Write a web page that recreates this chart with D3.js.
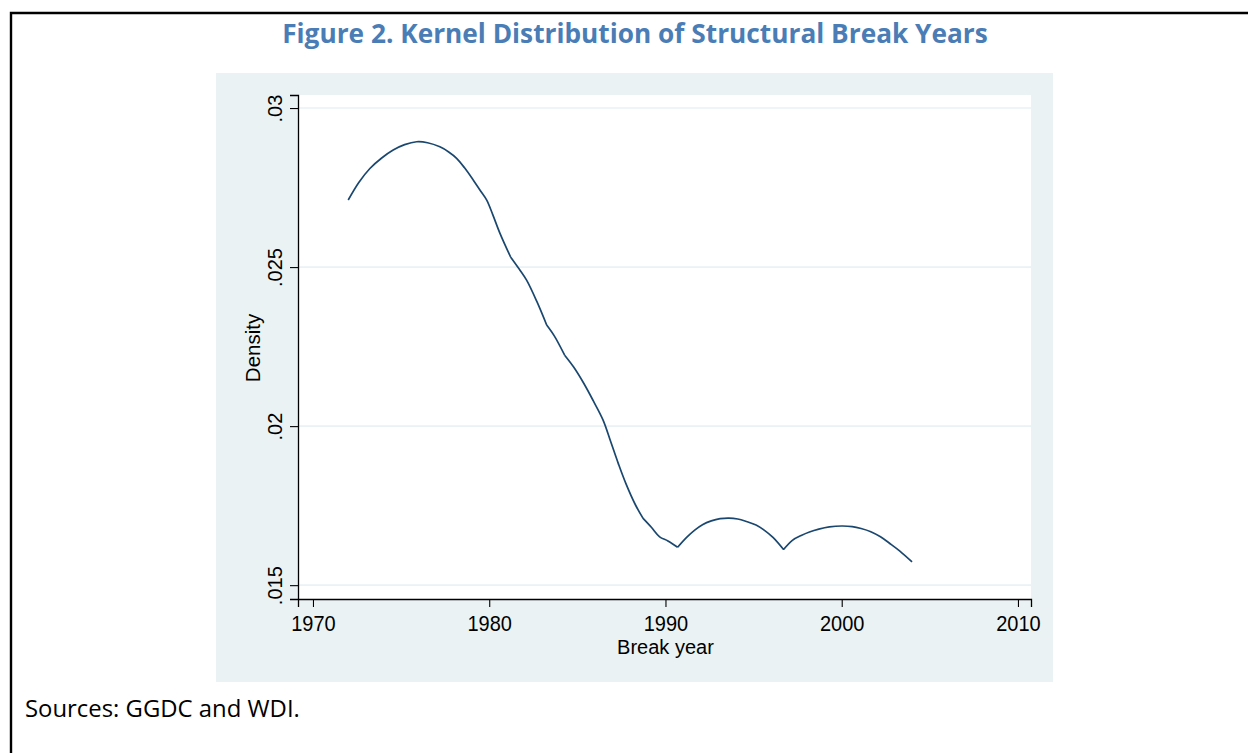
<!DOCTYPE html>
<html>
<head>
<meta charset="utf-8">
<script src="https://cdn.jsdelivr.net/npm/d3@7"></script>
<style>
  html, body { margin: 0; padding: 0; background: #ffffff; }
  svg { display: block; }
</style>
</head>
<body>
<script>
// ---- Data ----
const breakYears = [1972.0, 1972.6, 1973.23, 1973.9, 1974.55, 1975.2, 1975.88, 1976.5, 1977.2, 1977.7,
  1978.15, 1978.6, 1979.09, 1979.5, 1979.85, 1980.2, 1980.61, 1981.21, 1981.7, 1982.12,
  1982.7, 1983.26, 1983.7, 1984.28, 1984.8, 1985.37, 1985.9, 1986.46, 1986.9, 1987.32,
  1987.75, 1988.3, 1988.73, 1989.2, 1989.67, 1990.14, 1990.69, 1991.2, 1991.66, 1992.1,
  1992.6, 1993.1, 1993.6, 1994.1, 1994.6, 1995.14, 1995.6, 1996.1, 1996.7, 1997.2,
  1997.7, 1998.17, 1998.7, 1999.3, 2000.0, 2000.6, 2001.1, 2001.65, 2002.2, 2002.73,
  2003.3, 2003.99];
const densityValues = [0.02711, 0.02766, 0.02810, 0.02843, 0.02868, 0.02885, 0.02894, 0.02891, 0.02878, 0.02862,
  0.02842, 0.02812, 0.02774, 0.02740, 0.02711, 0.02665, 0.02606, 0.02532, 0.02494, 0.02459,
  0.02392, 0.02318, 0.02283, 0.02223, 0.02185, 0.02134, 0.02080, 0.02019, 0.01950, 0.01883,
  0.01820, 0.01752, 0.01710, 0.01682, 0.01652, 0.01639, 0.01619, 0.01650, 0.01673, 0.01690,
  0.01702, 0.01709, 0.01711, 0.01708, 0.01700, 0.01689, 0.01673, 0.01650, 0.01612, 0.01641,
  0.01656, 0.01667, 0.01676, 0.01683, 0.01686, 0.01684, 0.01678, 0.01668, 0.01652, 0.01631,
  0.01607, 0.01573];
// years where the estimated density shows a visible kink / cusp
const kinkYears = [1981.21, 1983.26, 1984.28, 1988.73, 1990.69, 1996.7];
const xTicks = [1970, 1980, 1990, 2000, 2010];
const yTicks = [0.015, 0.02, 0.025, 0.03];
const yTickLabels = [".015", ".02", ".025", ".03"];
const titleText = "Figure 2. Kernel Distribution of Structural Break Years";
const xTitle = "Break year";
const yTitle = "Density";
const sourceText = "Sources: GGDC and WDI.";

// ---- Layout ----
const W = 1248, H = 753;
const panel = { x0: 216, y0: 73, x1: 1053, y1: 682 };
const plot = { x0: 298, y0: 95, x1: 1031, y1: 599 };

const svg = d3.select("body").append("svg").attr("width", W).attr("height", H);

// outer frame (top and left rules)
svg.append("path").attr("d", `M11,${H} L11,13 L${W},13`)
  .attr("fill", "none").attr("stroke", "#000").attr("stroke-width", 2.4);

// title
function fit(sel, target) {
  const w = sel.node().getComputedTextLength();
  const fs = +sel.attr("font-size");
  sel.attr("font-size", fs * target / w);
}
const title = svg.append("text").attr("x", 635).attr("y", 43)
  .attr("text-anchor", "middle")
  .attr("font-family", "'Open Sans', 'Noto Sans', sans-serif")
  .attr("font-weight", 700).attr("font-size", 24)
  .attr("fill", "#4a7db5").text(titleText);
fit(title, 706);

// graph region
svg.append("rect").attr("x", panel.x0).attr("y", panel.y0)
  .attr("width", panel.x1 - panel.x0).attr("height", panel.y1 - panel.y0)
  .attr("fill", "#eaf2f3");
svg.append("rect").attr("x", plot.x0).attr("y", plot.y0)
  .attr("width", plot.x1 - plot.x0).attr("height", plot.y1 - plot.y0)
  .attr("fill", "#ffffff");

// scales
const x = d3.scaleLinear().domain([1969.15, 2010.74]).range([plot.x0, plot.x1]);
const y = d3.scaleLinear().domain([0.014565, 0.03041]).range([plot.y1, plot.y0]);

// gridlines
svg.append("g").selectAll("line").data(yTicks).join("line")
  .attr("x1", plot.x0).attr("x2", plot.x1)
  .attr("y1", d => y(d)).attr("y2", d => y(d))
  .attr("stroke", "#eaf2f3").attr("stroke-width", 1.6);

const axisFont = "'Liberation Sans', Arial, sans-serif";

// x axis
const gx = svg.append("g").attr("transform", `translate(0,${plot.y1})`)
  .call(d3.axisBottom(x).tickValues(xTicks).tickFormat(d3.format("d")).tickSizeOuter(0).tickSize(8));
gx.select(".domain").attr("stroke", "#000").attr("stroke-width", 1.3);
gx.selectAll(".tick line").attr("stroke", "#000").attr("stroke-width", 1.1);
gx.selectAll(".tick text").attr("font-family", axisFont).attr("font-size", 21.5).attr("fill", "#000")
  .attr("y", null).attr("dy", null)
  .attr("transform", "translate(0,32) scale(0.93,1)");

// y axis
const gy = svg.append("g").attr("transform", `translate(${plot.x0},0)`)
  .call(d3.axisLeft(y).tickValues(yTicks).tickFormat((d, i) => yTickLabels[i]).tickSizeOuter(0).tickSize(8).tickPadding(0));
gy.select(".domain").attr("stroke", "#000").attr("stroke-width", 1.3);
gy.selectAll(".tick line").attr("stroke", "#000").attr("stroke-width", 1.1);
gy.selectAll(".tick text")
  .attr("font-family", axisFont).attr("font-size", 20).attr("fill", "#000")
  .attr("x", null).attr("dy", null)
  .attr("text-anchor", "middle")
  .attr("transform", "translate(-16,0) rotate(-90)");

// axis titles
svg.append("text").attr("x", x(1990)).attr("y", 654)
  .attr("text-anchor", "middle").attr("font-family", axisFont).attr("font-size", 20)
  .attr("fill", "#000").text(xTitle);
svg.append("text")
  .attr("transform", `translate(260,${(plot.y0 + plot.y1) / 2 + 1}) rotate(-90)`)
  .attr("text-anchor", "middle").attr("font-family", axisFont).attr("font-size", 20.5)
  .attr("fill", "#000").text(yTitle);

// density line, smoothed between kinks
const pts = breakYears.map((yr, i) => [yr, densityValues[i]]);
const cutIdx = [0, ...kinkYears.map(k => breakYears.indexOf(k)), pts.length - 1];
const segs = [];
for (let s = 0; s < cutIdx.length - 1; s++) segs.push(pts.slice(cutIdx[s], cutIdx[s + 1] + 1));
const lineGen = d3.line().x(d => x(d[0])).y(d => y(d[1])).curve(d3.curveCatmullRom.alpha(0.5));
svg.append("path")
  .attr("fill", "none").attr("stroke", "#1a476f").attr("stroke-width", 1.7)
  .attr("stroke-linejoin", "round")
  .attr("d", segs.map(s => lineGen(s)).join(""));

// source note
const src = svg.append("text").attr("x", 25).attr("y", 717)
  .attr("font-family", "'Open Sans', 'Noto Sans', sans-serif").attr("font-size", 20)
  .attr("fill", "#000").text(sourceText);
fit(src, 275);
</script>
</body>
</html>
